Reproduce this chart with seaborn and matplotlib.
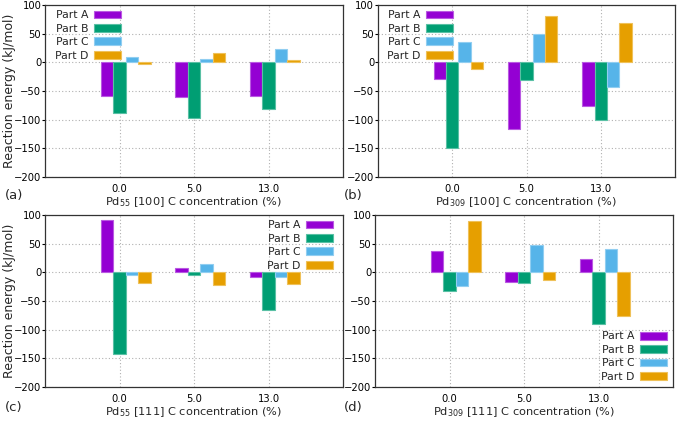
import numpy as np
import pandas as pd
import seaborn as sns
import matplotlib.pyplot as plt
from matplotlib.colors import to_rgb

concentrations = ["0.0", "5.0", "13.0"]
parts = ["Part A", "Part B", "Part C", "Part D"]
colors = ["#9400D3", "#009E73", "#56B4E9", "#E69F00"]

# rows: Part A..D, columns: concentrations
pd55_100 = [[-59, -60, -59], [-89, -97, -82], [9, 6, 24], [-3, 16, 4]]
pd309_100 = [[-29, -117, -77], [-149, -31, -100], [35, 50, -43], [-11, 80, 69]]
pd55_111 = [[91, 8, -9], [-143, -4, -66], [-5, 15, -8], [-18, -22, -21]]
pd309_111 = [[37, -16, 24], [-32, -18, -90], [-23, 47, 40], [89, -13, -76]]

xlabels = [
    r"Pd$_{55}$ [100] C concentration (%)",
    r"Pd$_{309}$ [100] C concentration (%)",
    r"Pd$_{55}$ [111] C concentration (%)",
    r"Pd$_{309}$ [111] C concentration (%)",
]
panel_tags = ["(a)", "(b)", "(c)", "(d)"]


def to_long(values):
    rows = []
    for part, vals in zip(parts, values):
        for conc, v in zip(concentrations, vals):
            rows.append({"conc": conc, "part": part, "energy": v})
    return pd.DataFrame(rows)


def lighter(c, k=0.35):
    r, g, b = to_rgb(c)
    return (r + (1 - r) * k, g + (1 - g) * k, b + (1 - b) * k)


sns.set_theme(style="white")
plt.rcParams["font.family"] = ["DejaVu Sans"]

W, H = 685, 426
fig = plt.figure(figsize=(W / 100, H / 100), dpi=100)

# axes boxes in pixels: left, right, top, bottom
boxes = [(45, 343, 5, 177), (378, 675, 5, 177),
         (45, 343, 215, 387), (375, 673, 215, 387)]
legend_cfg = [
    dict(loc="upper left", bbox_to_anchor=(7 / 298, 1 - 2 / 172)),
    dict(loc="upper left", bbox_to_anchor=(6 / 298, 1 - 2 / 172)),
    dict(loc="upper right", bbox_to_anchor=(1 - 7 / 298, 1 - 2 / 172)),
    dict(loc="lower right", bbox_to_anchor=(1 - 3 / 298, 2 / 172)),
]
datasets = [pd55_100, pd309_100, pd55_111, pd309_111]

for i, (data, box) in enumerate(zip(datasets, boxes)):
    l, r, t, b = box
    ax = fig.add_axes([l / W, 1 - b / H, (r - l) / W, (b - t) / H])
    df = to_long(data)
    sns.barplot(data=df, x="conc", y="energy", hue="part", palette=colors,
                width=0.667, errorbar=None, saturation=1, ax=ax, zorder=2)
    for p in ax.patches:
        p.set_edgecolor(lighter(p.get_facecolor()[:3]))
        p.set_linewidth(0.8)
    ax.set_axisbelow(True)
    off = 1 / 12
    ax.set_xlim(-1 - off, 3 - off)
    ax.set_xticks(np.arange(len(concentrations)) - off)
    ax.set_xticklabels(concentrations)
    ax.set_ylim(-200, 100)
    ax.set_yticks(np.arange(-200, 101, 50))
    ax.grid(True, linestyle=(0, (1, 2)), color="#b0b0b0", linewidth=0.8)
    for s in ax.spines.values():
        s.set_color("#333333")
        s.set_linewidth(0.9)
    ax.tick_params(axis="x", length=0, labelsize=7.2, pad=5, colors="black")
    ax.tick_params(axis="y", length=2.2, width=0.8, labelsize=7.2, pad=0.5,
                   left=True, colors="black")
    ax.set_xlabel(xlabels[i], fontsize=8.2, labelpad=1)
    if i % 2 == 0:
        ax.set_ylabel("Reaction energy (kJ/mol)", fontsize=9)
        ax.yaxis.set_label_coords(-(l - 16) / (r - l), 0.5)
    else:
        ax.set_ylabel("")
    handles, labels = ax.get_legend_handles_labels()
    ax.legend(handles, labels, frameon=False, markerfirst=False, fontsize=7.8,
              handlelength=2.5, handleheight=0.75, handletextpad=0.5,
              labelspacing=0.32, borderpad=0.3, borderaxespad=0,
              **legend_cfg[i])
    fig.text(5 / W if i % 2 == 0 else 344 / W, 1 - (196 if i < 2 else 408) / H,
             panel_tags[i], fontsize=9.5, va="center", ha="left")

fig.savefig("out.png", dpi=100)
